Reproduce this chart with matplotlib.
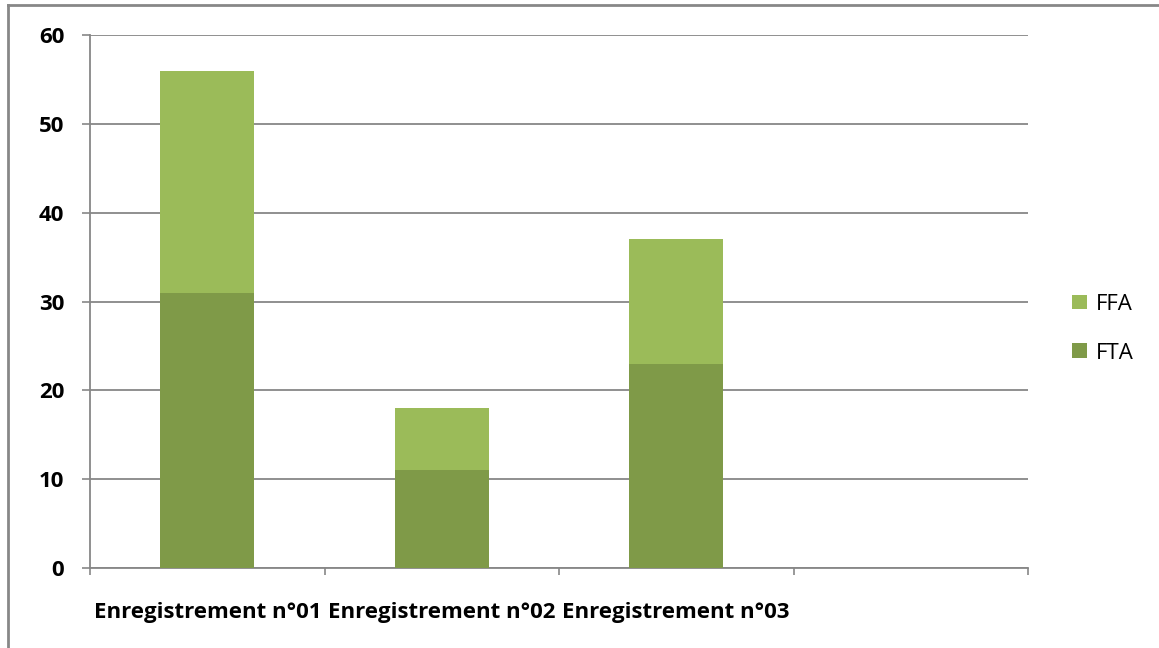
import numpy as np
import matplotlib.pyplot as plt
from matplotlib.lines import Line2D

# Données
categories = ['Enregistrement n°01', 'Enregistrement n°02', 'Enregistrement n°03']
fta = [31, 11, 23]
ffa = [25, 7, 14]
n_slots = 4  # Excel laisse une 4e catégorie vide

col_fta = '#7F9A48'
col_ffa = '#9BBB59'
grey = '#878787'

plt.rcParams['font.family'] = ['Open Sans', 'DejaVu Sans']

fig = plt.figure(figsize=(11.59, 6.48), dpi=100)
ax = fig.add_axes([90 / 1159, 1 - 568 / 648, (1028 - 90) / 1159, (568 - 35) / 648])

x = np.arange(len(categories)) + 0.5
ax.bar(x, fta, width=0.4, color=col_fta, label='FTA', zorder=3)
ax.bar(x, ffa, width=0.4, bottom=fta, color=col_ffa, label='FFA', zorder=3)

ax.set_xlim(0, n_slots)
ax.set_ylim(0, 60)
ax.set_yticks(range(0, 61, 10))
ax.set_yticklabels([str(v) for v in range(0, 61, 10)], fontweight='bold', fontsize=16)
ax.yaxis.grid(True, color=grey, linewidth=1.3, zorder=0)
ax.tick_params(axis='y', length=5.5, width=1.2, color=grey, pad=13)

ax.set_xticks(range(n_slots + 1))
ax.set_xticklabels([])
ax.tick_params(axis='x', which='major', length=5, width=1.2, color=grey, direction='out')
ax.set_xticks(x, minor=True)
ax.set_xticklabels(categories, minor=True, fontweight='bold', fontsize=16)
ax.tick_params(axis='x', which='minor', length=0, pad=24.5)

for s in ['top', 'right']:
    ax.spines[s].set_visible(False)
for s in ['left', 'bottom']:
    ax.spines[s].set_color(grey)
    ax.spines[s].set_linewidth(1.3)

handles, labels = ax.get_legend_handles_labels()
ax.legend(handles[::-1], labels[::-1], loc='center left', bbox_to_anchor=(1.047, 0.449),
          frameon=False, fontsize=16, handlelength=0.66, handleheight=0.66,
          handletextpad=0.4, labelspacing=1.25, borderpad=0, borderaxespad=0)

# cadre du graphique (bords haut et gauche visibles)
fig.add_artist(Line2D([8 / 1159, 8 / 1159], [0, 1 - 5 / 648], color=grey, linewidth=2,
                      transform=fig.transFigure))
fig.add_artist(Line2D([8 / 1159, 1158 / 1159], [1 - 5 / 648, 1 - 5 / 648], color=grey,
                      linewidth=2, transform=fig.transFigure))

fig.savefig('out.png', dpi=100)
